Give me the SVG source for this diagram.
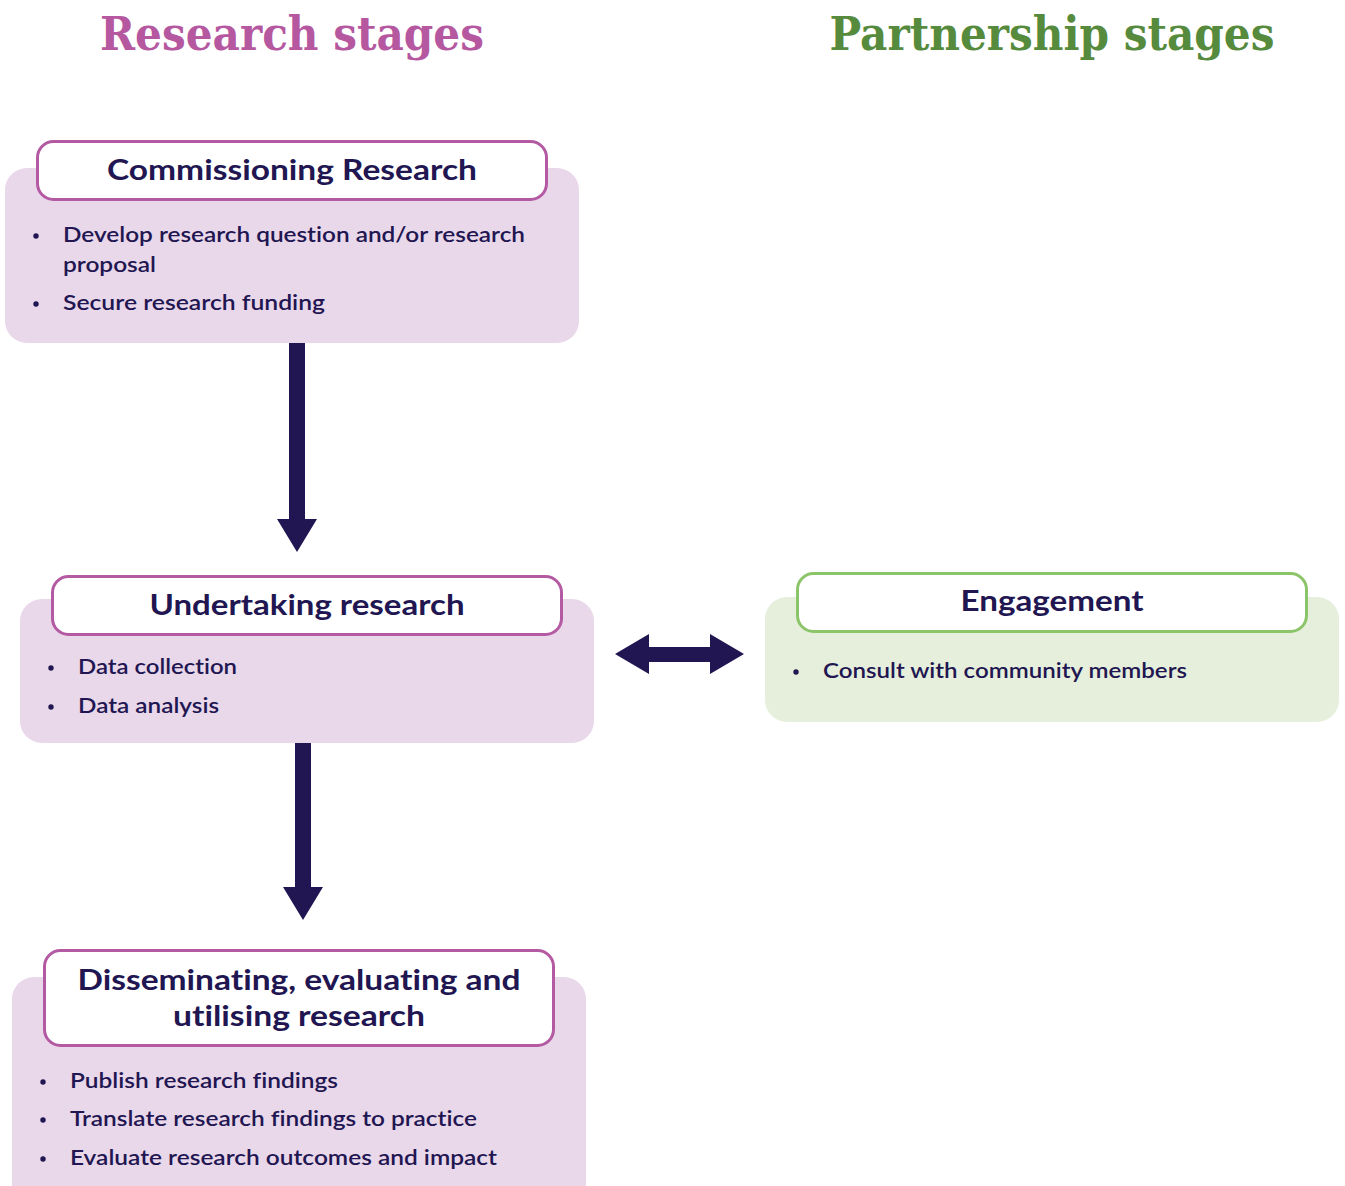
<svg xmlns="http://www.w3.org/2000/svg" width="1345" height="1186" viewBox="0 0 1345 1186">
<style>
text{font-variant-ligatures:none;font-feature-settings:"liga" 0,"clig" 0,"dlig" 0}
.h1{font-family:"DejaVu Serif","Liberation Serif",serif;font-weight:bold;font-size:46px;text-anchor:middle}
.ttl{font-family:"Lato","Open Sans",sans-serif;font-weight:bold;font-size:29px;fill:#211651;text-anchor:middle}
.bul{font-family:"Lato","Open Sans",sans-serif;font-weight:600;font-size:21px;fill:#211651}
.dot{fill:#211651}
.bgP{fill:#e9d7ea}
.bgG{fill:#e6efdc}
.hdP{fill:#ffffff;stroke:#b35aa3;stroke-width:3}
.hdG{fill:#ffffff;stroke:#8cc46a;stroke-width:3}
.arr{fill:#211651}
</style>
<rect width="1345" height="1186" fill="#ffffff"/>
<text class="h1" x="292" y="50" fill="#b5589f" textLength="384" lengthAdjust="spacingAndGlyphs">Research stages</text>
<text class="h1" x="1052" y="50" fill="#568a3c" textLength="445" lengthAdjust="spacingAndGlyphs">Partnership stages</text>

<g id="commissioning">
<rect class="bgP" x="5" y="168" width="574" height="175" rx="22"/>
<rect class="hdP" x="37.5" y="141.5" width="509" height="58" rx="16"/>
<text class="ttl" x="292" y="180" textLength="370" lengthAdjust="spacingAndGlyphs">Commissioning Research</text>
<circle class="dot" cx="36" cy="236" r="2.7"/>
<text class="bul" x="63" y="242" textLength="462" lengthAdjust="spacingAndGlyphs">Develop research question and/or research</text>
<text class="bul" x="63" y="272" textLength="93" lengthAdjust="spacingAndGlyphs">proposal</text>
<circle class="dot" cx="36" cy="304" r="2.7"/>
<text class="bul" x="63" y="310" textLength="262" lengthAdjust="spacingAndGlyphs">Secure research funding</text>
</g>

<g id="undertaking">
<rect class="bgP" x="20" y="599" width="574" height="144" rx="22"/>
<rect class="hdP" x="52.5" y="576.5" width="509" height="58" rx="16"/>
<text class="ttl" x="307" y="615" textLength="315" lengthAdjust="spacingAndGlyphs">Undertaking research</text>
<circle class="dot" cx="51" cy="668" r="2.7"/>
<text class="bul" x="78" y="674" textLength="159" lengthAdjust="spacingAndGlyphs">Data collection</text>
<circle class="dot" cx="51" cy="707" r="2.7"/>
<text class="bul" x="78" y="713" textLength="141" lengthAdjust="spacingAndGlyphs">Data analysis</text>
</g>

<g id="engagement">
<rect class="bgG" x="765" y="597" width="574" height="125" rx="22"/>
<rect class="hdG" x="797.5" y="573.5" width="509" height="58" rx="16"/>
<text class="ttl" x="1052" y="611" textLength="183" lengthAdjust="spacingAndGlyphs">Engagement</text>
<circle class="dot" cx="796" cy="672" r="2.7"/>
<text class="bul" x="823" y="678" textLength="364" lengthAdjust="spacingAndGlyphs">Consult with community members</text>
</g>

<g id="disseminating">
<rect class="bgP" x="12" y="977" width="574" height="230" rx="22"/>
<rect class="hdP" x="44.5" y="950.5" width="509" height="95" rx="16"/>
<text class="ttl" x="299" y="990" textLength="443" lengthAdjust="spacingAndGlyphs">Disseminating, evaluating and</text>
<text class="ttl" x="299" y="1026" textLength="252" lengthAdjust="spacingAndGlyphs">utilising research</text>
<circle class="dot" cx="43" cy="1082" r="2.7"/>
<text class="bul" x="70" y="1088" textLength="268" lengthAdjust="spacingAndGlyphs">Publish research findings</text>
<circle class="dot" cx="43" cy="1120" r="2.7"/>
<text class="bul" x="70" y="1126" textLength="407" lengthAdjust="spacingAndGlyphs">Translate research findings to practice</text>
<circle class="dot" cx="43" cy="1159" r="2.7"/>
<text class="bul" x="70" y="1165" textLength="427" lengthAdjust="spacingAndGlyphs">Evaluate research outcomes and impact</text>
</g>

<g id="connectors">
<polygon class="arr" points="289,343 305,343 305,519 317,519 297,552 277,519 289,519"/>
<polygon class="arr" points="295,743 311,743 311,887 323,887 303,920 283,887 295,887"/>
<polygon class="arr" points="615,654 649,634 649,647 710,647 710,634 744,654 710,674 710,662 649,662 649,674"/>
</g>
</svg>
